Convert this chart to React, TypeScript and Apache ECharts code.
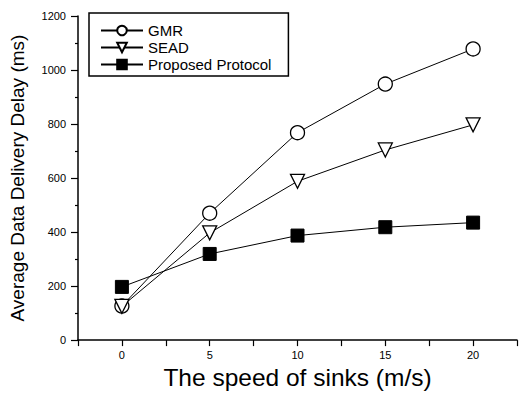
import React, { useEffect, useRef } from "react";
import * as echarts from "echarts";

// Sink speed (m/s) and average delivery delay (ms) for each protocol
const speeds = [0, 5, 10, 15, 20];
const gmrDelay = [126, 470, 768, 948, 1078];
const seadDelay = [125, 397, 588, 704, 797];
const proposedDelay = [197, 319, 387, 418, 435];

const xTickLabels = ["0", "5", "10", "15", "20"];
const yTickLabels = ["0", "200", "400", "600", "800", "1000", "1200"];

const FONT = "Liberation Sans, Arial, Helvetica, sans-serif";

const pairs = (vals: number[]) => speeds.map((s, i) => [s, vals[i]]);

export default function App() {
  const ref = useRef<HTMLDivElement>(null);

  useEffect(() => {
    if (!ref.current) return;
    const chart = echarts.init(ref.current, undefined, { renderer: "svg" });

    const baseSeries = {
      type: "line" as const,
      lineStyle: { color: "#000", width: 1 },
      emphasis: { disabled: true },
      z: 3,
    };

    chart.setOption({
      animation: false,
      backgroundColor: "#fff",
      textStyle: { fontFamily: FONT },
      grid: { left: 78, right: 1, top: 16, bottom: 52 },
      legend: {
        orient: "vertical",
        left: 89,
        top: 13,
        padding: [10, 17, 4, 11],
        itemGap: 2,
        itemWidth: 42,
        itemHeight: 12,
        borderColor: "#000",
        borderWidth: 1.5,
        textStyle: { fontFamily: FONT, fontSize: 15, color: "#000" },
        selectedMode: false,
        data: ["GMR", "SEAD", "Proposed Protocol"],
      },
      xAxis: {
        type: "value",
        min: -2.5,
        max: 22.5,
        interval: 2.5,
        name: "The speed of sinks (m/s)",
        nameLocation: "middle",
        nameGap: 22,
        nameTextStyle: { fontFamily: FONT, fontSize: 24.5, color: "#000" },
        axisLine: { show: true, onZero: false, lineStyle: { color: "#000", width: 1.5 } },
        axisTick: { show: true, length: 6, lineStyle: { color: "#000", width: 1.2 } },
        axisLabel: {
          fontFamily: FONT,
          fontSize: 11,
          color: "#000",
          margin: 9,
          formatter: (v: number) => {
            const label = String(Math.round(v * 10) / 10);
            return xTickLabels.includes(label) ? label : "";
          },
        },
        splitLine: { show: false },
      },
      yAxis: {
        type: "value",
        min: 0,
        max: 1200,
        interval: 200,
        name: "Average Data Delivery Delay (ms)",
        nameLocation: "middle",
        nameGap: 51,
        nameTextStyle: { fontFamily: FONT, fontSize: 19, color: "#000" },
        axisLine: { show: true, onZero: false, lineStyle: { color: "#000", width: 1.5 } },
        axisTick: { show: true, length: 7, lineStyle: { color: "#000", width: 1.2 } },
        minorTick: { show: true, splitNumber: 2, length: 3, lineStyle: { color: "#000", width: 1.2 } },
        axisLabel: {
          fontFamily: FONT,
          fontSize: 11,
          color: "#000",
          margin: 12,
          formatter: (v: number) => {
            const label = String(v);
            return yTickLabels.includes(label) ? label : "";
          },
        },
        splitLine: { show: false },
      },
      series: [
        {
          ...baseSeries,
          name: "GMR",
          data: pairs(gmrDelay),
          symbol: "circle",
          symbolSize: 14,
          itemStyle: { color: "#fff", borderColor: "#000", borderWidth: 1.3 },
        },
        {
          ...baseSeries,
          name: "SEAD",
          data: pairs(seadDelay),
          symbol: "triangle",
          symbolRotate: 180,
          symbolSize: 14,
          itemStyle: { color: "#fff", borderColor: "#000", borderWidth: 1.3 },
        },
        {
          ...baseSeries,
          name: "Proposed Protocol",
          data: pairs(proposedDelay),
          symbol: "rect",
          symbolSize: 13,
          itemStyle: { color: "#000", borderColor: "#000", borderWidth: 1 },
        },
      ],
    });

    return () => chart.dispose();
  }, []);

  return <div ref={ref} style={{ width: 520, height: 395, position: "absolute", left: 0, top: 0 }} />;
}
